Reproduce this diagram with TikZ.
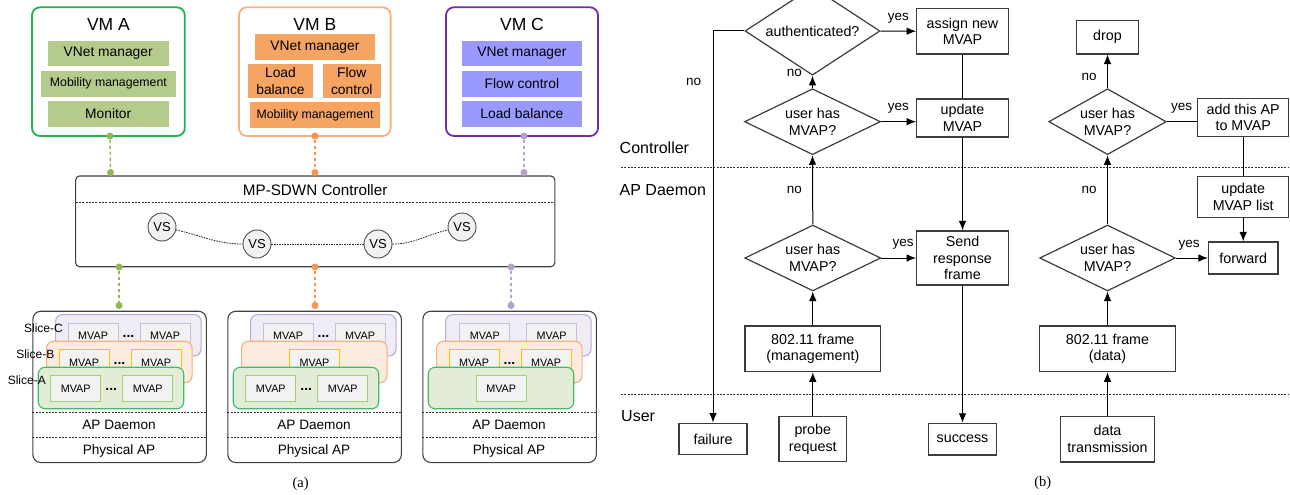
\documentclass[tikz,border=0pt]{standalone}
\usepackage{fontspec}
\setmainfont{Liberation Sans}
\newfontfamily\capfont{Liberation Serif}
\usetikzlibrary{shapes.geometric,arrows.meta}

\definecolor{vmagreen}{RGB}{34,177,76}
\definecolor{vmafill}{RGB}{181,203,139}
\definecolor{vmbline}{RGB}{244,177,131}
\definecolor{vmbfill}{RGB}{245,164,98}
\definecolor{vmcline}{RGB}{112,48,160}
\definecolor{vmcfill}{RGB}{153,153,255}
\definecolor{dotgreen}{RGB}{146,183,85}
\definecolor{dotorange}{RGB}{245,150,80}
\definecolor{dotpurple}{RGB}{178,162,204}
\definecolor{slcfill}{RGB}{239,236,245}
\definecolor{slcline}{RGB}{186,172,214}
\definecolor{slbfill}{RGB}{252,236,224}
\definecolor{slbline}{RGB}{244,177,131}
\definecolor{slafill}{RGB}{227,236,215}
\definecolor{slaline}{RGB}{60,190,100}
\definecolor{mvapfill}{RGB}{242,242,242}
\definecolor{mvapc}{RGB}{200,190,222}
\definecolor{mvapb}{RGB}{255,192,0}
\definecolor{mvapa}{RGB}{160,210,110}
\definecolor{boxline}{RGB}{60,60,60}

% one slice of an access point
\newcommand{\putslice}[5]{%
  \node[slicebox, fill=#4, draw=#5, anchor=north west] (#1) at (#2,#3) {};}
% two MVAPs of a slice with the ellipsis between them
\newcommand{\mvappair}[4]{%
  \node[mvapbox, draw=#4, anchor=north west] (#1l) at ({#2+12.5},{#3+8.5}) {MVAP};
  \node[mvapbox, draw=#4, anchor=north west] (#1r) at ({#2+84.5},{#3+8.5}) {MVAP};
  \node[ellip] (#1d) at ({#2+73.5},{#3+22.6}) {...};}
% a single MVAP in the middle of a slice
\newcommand{\mvapone}[4]{%
  \node[mvapbox, draw=#4, anchor=north] (#1) at ({#2+73.5},{#3+8.5}) {MVAP};}
% frame of an access point with its two lower layers
\newcommand{\apframe}[2]{%
  \node[apbox, anchor=north west] (#1) at (#2,310.7) {};
  \draw[sepline] (#2,412.7) -- ({#2+173.5},412.7);
  \draw[sepline] (#2,437.7) -- ({#2+173.5},437.7);
  \node[aptext] (#1dmn) at ({#2+86.75},425) {AP Daemon};
  \node[aptext] (#1phy) at ({#2+86.75},450.5) {Physical AP};}

\begin{document}
\begin{tikzpicture}[x=1pt,y=-1pt,
  vmbox/.style={draw, line width=1.8pt, rounded corners=8pt, fill=white, inner sep=0pt},
  vmtitle/.style={font=\fontsize{17.5}{20}\selectfont, inner sep=0pt},
  fnbox/.style={inner sep=0pt, align=center, font=\fontsize{13.8}{16.7}\selectfont},
  fnsmall/.style={inner sep=0pt, align=center, font=\fontsize{12.3}{15}\selectfont},
  linkdot/.style={circle, inner sep=0pt, minimum size=7pt},
  linkline/.style={line width=1.4pt, dash pattern=on 3.5pt off 2.5pt},
  sepline/.style={draw=black!80, line width=0.9pt, dash pattern=on 2pt off 1.3pt},
  ctlbox/.style={draw=black!75, line width=1.1pt, rounded corners=4pt, inner sep=0pt, fill=white},
  vsnode/.style={circle, draw=black!70, line width=0.9pt, fill=mvapfill, minimum size=28pt, inner sep=0pt, font=\fontsize{13}{15}\selectfont},
  vslink/.style={draw=black!85, line width=0.8pt, dash pattern=on 1.6pt off 1pt},
  apbox/.style={draw=black!75, line width=1.1pt, rounded corners=8pt, minimum width=173.5pt, minimum height=151.3pt, inner sep=0pt},
  aptext/.style={inner sep=0pt, font=\fontsize{13.6}{15}\selectfont},
  slicebox/.style={line width=1.1pt, rounded corners=7pt, minimum width=145.5pt, minimum height=41.5pt, inner sep=0pt},
  mvapbox/.style={fill=mvapfill, line width=1.1pt, minimum width=50pt, minimum height=26pt, inner sep=0pt, font=\fontsize{10.8}{12}\selectfont},
  ellip/.style={inner sep=0pt, font=\bfseries\fontsize{14}{14}\selectfont},
  slicelabel/.style={inner sep=0pt, anchor=east, font=\fontsize{12}{14}\selectfont},
  flowbox/.style={draw=boxline, line width=1.2pt, inner sep=0pt, align=center, font=\fontsize{14.3}{16.7}\selectfont},
  flowdia/.style={diamond, draw=boxline, line width=1.2pt, inner sep=-4pt, align=center, font=\fontsize{14.3}{16.7}\selectfont},
  arr/.style={line width=1pt, -{Latex[length=9.5pt,width=7.5pt]}},
  plain/.style={line width=1pt},
  yn/.style={inner sep=0pt, font=\fontsize{13.5}{15}\selectfont},
  layer/.style={inner sep=0pt, anchor=west, font=\fontsize{16}{18}\selectfont},
  layersep/.style={draw=black!80, line width=0.9pt, dash pattern=on 2pt off 1.3pt},
  caption/.style={inner sep=0pt, font=\capfont\fontsize{14.5}{16}\selectfont}
]
\useasboundingbox (0,0) rectangle (1290,495);

% ---------------- (a) virtual machines ----------------
\node[vmbox, draw=vmagreen, minimum width=152.8pt, minimum height=128.7pt] (vma) at (108.4,71.65) {};
\node[vmbox, draw=vmbline, minimum width=151.6pt, minimum height=128.7pt] (vmb) at (314.8,71.65) {};
\node[vmbox, draw=vmcline, minimum width=152pt, minimum height=128.7pt] (vmc) at (522,71.65) {};
\node[vmtitle] (vmat) at (108.4,24) {VM A};
\node[vmtitle] (vmbt) at (314.8,24) {VM B};
\node[vmtitle] (vmct) at (522,24) {VM C};

\node[fnbox, fill=vmafill, minimum width=121pt, minimum height=25.3pt] (a1) at (108.2,53.3) {VNet manager};
\node[fnsmall, fill=vmafill, minimum width=134.8pt, minimum height=26pt] (a2) at (108.4,83.7) {Mobility management};
\node[fnbox, fill=vmafill, minimum width=121pt, minimum height=25.7pt] (a3) at (108.2,113.9) {Monitor};

\node[fnbox, fill=vmbfill, minimum width=120.3pt, minimum height=26pt] (b1) at (314.9,47) {VNet manager};
\node[fnbox, fill=vmbfill, minimum width=64.1pt, minimum height=33.4pt] (b2) at (280.5,81) {Load\\balance};
\node[fnbox, fill=vmbfill, minimum width=58.4pt, minimum height=33.4pt] (b3) at (351.8,81) {Flow\\control};
\node[fnsmall, fill=vmbfill, minimum width=130pt, minimum height=26pt] (b4) at (315,115) {Mobility management};

\node[fnbox, fill=vmcfill, minimum width=120.3pt, minimum height=25.3pt] (c1) at (521.9,53.3) {VNet manager};
\node[fnbox, fill=vmcfill, minimum width=120.3pt, minimum height=26pt] (c2) at (521.9,83.7) {Flow control};
\node[fnbox, fill=vmcfill, minimum width=120.3pt, minimum height=25.7pt] (c3) at (521.9,113.9) {Load balance};

% ---------------- (a) controller ----------------
\node[ctlbox, minimum width=479.2pt, minimum height=90.7pt] (ctl) at (315.2,221.35) {};
\node[inner sep=0pt, font=\fontsize{15.2}{17}\selectfont] (ctlt) at (315.2,190.5) {MP-SDWN Controller};
\draw[sepline] (75.6,202.5) -- (554.8,202.5);
\node[vsnode] (vs1) at (162,227) {VS};
\node[vsnode] (vs2) at (257,244) {VS};
\node[vsnode] (vs3) at (378,244) {VS};
\node[vsnode] (vs4) at (462,227) {VS};
\draw[vslink] (vs1) to[out=-12,in=180] (vs2);
\draw[vslink] (vs2) -- (vs3);
\draw[vslink] (vs3) to[out=0,in=192] (vs4);

% links between VMs and controller
\node[linkdot, fill=dotgreen] (da1) at (110,136) {};
\node[linkdot, fill=dotorange] (db1) at (315,136) {};
\node[linkdot, fill=dotpurple] (dc1) at (524,136) {};
\node[linkdot, fill=dotgreen] (da2) at (110.5,172.5) {};
\node[linkdot, fill=dotorange] (db2) at (315,172.5) {};
\node[linkdot, fill=dotpurple] (dc2) at (524,172.5) {};
\draw[linkline, draw=dotgreen] (da1) -- (da2);
\draw[linkline, draw=dotorange] (db1) -- (db2);
\draw[linkline, draw=dotpurple] (dc1) -- (dc2);

% ---------------- (a) access points ----------------
\apframe{ap1}{32.3}
\apframe{ap2}{227.3}
\apframe{ap3}{422.3}

% first access point
\putslice{p1c}{55}{314}{slcfill}{slcline}
\mvappair{p1cm}{55}{314}{mvapc}
\putslice{p1b}{46}{340.7}{slbfill}{slbline}
\mvappair{p1bm}{46}{340.7}{mvapb}
\putslice{p1a}{37.7}{366.7}{slafill}{slaline}
\mvappair{p1am}{37.7}{366.7}{mvapa}
\node[slicelabel] (lc) at (63,328) {Slice-C};
\node[slicelabel] (lb) at (54.5,354.5) {Slice-B};
\node[slicelabel] (la) at (46,380.7) {Slice-A};

% second access point
\putslice{p2c}{250}{314}{slcfill}{slcline}
\mvappair{p2cm}{250}{314}{mvapc}
\putslice{p2b}{241}{340.7}{slbfill}{slbline}
\mvapone{p2bm}{241}{340.7}{mvapb}
\putslice{p2a}{232.7}{366.7}{slafill}{slaline}
\mvappair{p2am}{232.7}{366.7}{mvapa}

% third access point
\putslice{p3c}{445}{314}{slcfill}{slcline}
\node[mvapbox, draw=mvapc, anchor=north west] (p3cml) at (459.3,322.5) {MVAP};
\node[mvapbox, draw=mvapc, anchor=north west] (p3cmr) at (526,322.5) {MVAP};
\putslice{p3b}{436}{340.7}{slbfill}{slbline}
\mvappair{p3bm}{436}{340.7}{mvapb}
\putslice{p3a}{427.7}{366.7}{slafill}{slaline}
\mvapone{p3am}{427.7}{366.7}{mvapa}

% links between controller and access points
\node[linkdot, fill=dotgreen] (da3) at (119,267) {};
\node[linkdot, fill=dotorange] (db3) at (315,267) {};
\node[linkdot, fill=dotpurple] (dc3) at (511,267) {};
\node[linkdot, fill=dotgreen] (da4) at (119,305.5) {};
\node[linkdot, fill=dotorange] (db4) at (315,305.5) {};
\node[linkdot, fill=dotpurple] (dc4) at (511,305.5) {};
\draw[linkline, draw=dotgreen] (da3) -- (da4);
\draw[linkline, draw=dotorange] (db3) -- (db4);
\draw[linkline, draw=dotpurple] (dc3) -- (dc4);

\node[caption] (capa) at (300.7,484) {(a)};

% ---------------- (b) flow chart ----------------
\draw[layersep] (621,167) -- (1288,167);
\draw[layersep] (621,394) -- (1288,394);
\node[layer] (lyctl) at (619.5,148) {Controller};
\node[layer] (lyapd) at (619.5,190) {AP Daemon};
\node[layer] (lyusr) at (621,416) {User};

% management frames
\node[flowdia, minimum width=135pt, minimum height=47pt] (auth) at (812.5,31) {authenticated?};
\node[flowbox, minimum width=91.6pt, minimum height=45.7pt] (assign) at (962.5,31.2) {assign new\\MVAP};
\node[flowdia, minimum width=136pt, minimum height=57pt] (cdia1) at (812.5,121.7) {user has\\MVAP?};
\node[flowbox, minimum width=91.6pt, minimum height=38pt] (upd) at (962.5,118) {update\\MVAP};
\node[flowdia, minimum width=136pt, minimum height=59pt] (adia1) at (812.8,258) {user has\\MVAP?};
\node[flowbox, minimum width=91.6pt, minimum height=54pt] (send) at (962.5,258) {Send\\response\\frame};
\node[flowbox, minimum width=135.7pt, minimum height=45.7pt] (mgmt) at (812.8,348.8) {802.11 frame\\(management)};
\node[flowbox, minimum width=67.7pt, minimum height=45pt] (probe) at (812.8,439.2) {probe\\request};
\node[flowbox, minimum width=68pt, minimum height=31.7pt] (failure) at (713,439) {failure};
\node[flowbox, minimum width=68.4pt, minimum height=31.7pt] (success) at (962.5,439.2) {success};

\draw[arr] (probe) -- (mgmt);
\draw[arr] (mgmt) -- (adia1);
\draw[arr] (adia1.east) -- (send.west);
\draw[arr] (adia1.north) -- (cdia1.south);
\draw[arr] (cdia1.east) -- (cdia1.east -| upd.west);
\draw[arr] (cdia1.north) -- (auth.south);
\draw[arr] (auth.east) -- (assign.west);
\draw[arr] (auth.west) -| (failure.north);
\draw[plain] (assign.south) -- (upd.north);
\draw[arr] (upd.south) -- (send.north);
\draw[arr] (send.south) -- (success.north);

\node[yn] (y1) at (898.3,18.3) {yes};
\node[yn] (y2) at (898.3,108) {yes};
\node[yn] (y3) at (903,244) {yes};
\node[yn] (n1) at (794.3,72.7) {no};
\node[yn] (n2) at (794.3,190) {no};
\node[yn] (n3) at (693.7,81.7) {no};

% data frames
\node[flowbox, minimum width=62pt, minimum height=33.3pt] (drop) at (1107.5,37.3) {drop};
\node[flowdia, minimum width=117.5pt, minimum height=57pt] (cdia2) at (1107.5,121.7) {user has\\MVAP?};
\node[flowbox, minimum width=91pt, minimum height=38pt] (add) at (1243.2,117.5) {add this AP\\to MVAP};
\node[flowbox, minimum width=91pt, minimum height=40.6pt] (list) at (1243.2,197) {update\\MVAP list};
\node[flowbox, minimum width=69.4pt, minimum height=32pt] (fwd) at (1243.2,258) {forward};
\node[flowdia, minimum width=135.7pt, minimum height=59pt] (adia2) at (1107.5,258) {user has\\MVAP?};
\node[flowbox, minimum width=135.7pt, minimum height=45.7pt] (data) at (1107.5,348.8) {802.11 frame\\(data)};
\node[flowbox, minimum width=94.5pt, minimum height=45.7pt] (trans) at (1107.5,439.2) {data\\transmission};

\draw[arr] (trans) -- (data);
\draw[arr] (data) -- (adia2);
\draw[arr] (adia2.east) -- (fwd.west);
\draw[arr] (adia2.north) -- (cdia2.south);
\draw[arr] (cdia2.north) -- (drop.south);
\draw[plain] (cdia2.east) -- (cdia2.east -| add.west);
\draw[plain] (add.south) -- (list.north);
\draw[arr] (list.south) -- (fwd.north);

\node[yn] (y4) at (1181.6,108) {yes};
\node[yn] (y5) at (1189,245) {yes};
\node[yn] (n4) at (1089,76.7) {no};
\node[yn] (n5) at (1089,190) {no};

\node[caption] (capb) at (1042.7,483.5) {(b)};
\end{tikzpicture}
\end{document}
